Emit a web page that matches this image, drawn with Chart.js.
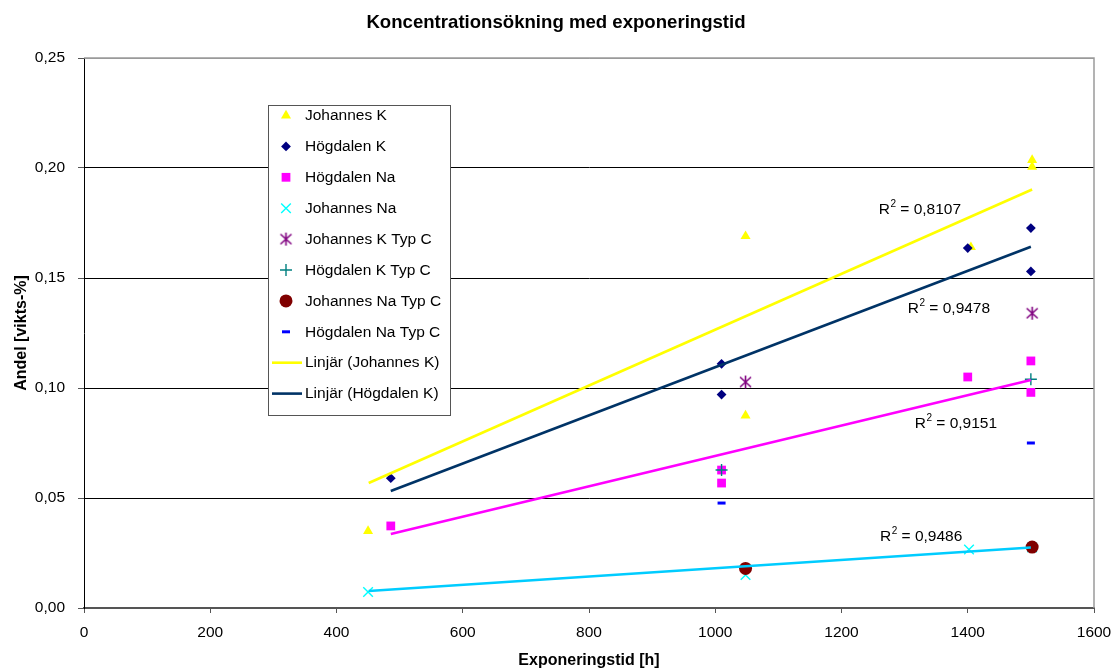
<!DOCTYPE html>
<html>
<head>
<meta charset="utf-8">
<script src="https://cdn.jsdelivr.net/npm/chart.js@4.4.1/dist/chart.umd.min.js"></script>
<style>
  html, body { margin: 0; padding: 0; background: #fff; }
  #wrap { width: 1112px; height: 670px; }
</style>
</head>
<body>
<div id="wrap"><canvas id="c" width="1112" height="670"></canvas></div>
<script>
// Measured shares (vikts-%) against exposure time (h)
const johannesK_x   = [450, 1048, 1048, 1405, 1502, 1502];
const johannesK_y   = [0.035, 0.169, 0.0875, 0.164, 0.2036, 0.2005];
const hogdalenK_x   = [486, 1010, 1010, 1400, 1500, 1500];
const hogdalenK_y   = [0.059, 0.111, 0.097, 0.1636, 0.1727, 0.153];
const hogdalenNa_x  = [486, 1010, 1010, 1400, 1500, 1500];
const hogdalenNa_y  = [0.0373, 0.0627, 0.0568, 0.105, 0.1123, 0.098];
const johannesNa_x  = [450, 1048, 1402, 1502];
const johannesNa_y  = [0.0073, 0.015, 0.0266, 0.0275];
const johKTypC_x    = [1048, 1502];
const johKTypC_y    = [0.1027, 0.134];
const hogKTypC_x    = [1010, 1500];
const hogKTypC_y    = [0.0627, 0.104];
const johNaTypC_x   = [1048, 1502];
const johNaTypC_y   = [0.018, 0.0277];
const hogNaTypC_x   = [1010, 1500];
const hogNaTypC_y   = [0.0477, 0.075];

// Linear trend lines (start and end of each fitted line)
const trendJohK_x  = [451, 1502];
const trendJohK_y  = [0.0568, 0.1902];
const trendHogK_x  = [486, 1500];
const trendHogK_y  = [0.0532, 0.1642];
const trendHogNa_x = [486, 1500];
const trendHogNa_y = [0.0336, 0.1036];
const trendJohNa_x = [451, 1500];
const trendJohNa_y = [0.0077, 0.0275];

const r2Values = ['0,8107', '0,9478', '0,9151', '0,9486'];

const xTicks = [0, 200, 400, 600, 800, 1000, 1200, 1400, 1600];
const yTicks = [0, 0.05, 0.10, 0.15, 0.20, 0.25];

const FONT = '"Liberation Sans", Arial, sans-serif';
const TXT = 15.5;

function pts(xs, ys) { return xs.map((x, i) => ({ x: x, y: ys[i] })); }

// Asterisk marker: an X with a vertical stroke
function asteriskMarker(color) {
  const c = document.createElement('canvas');
  c.width = 15; c.height = 15;
  const g = c.getContext('2d');
  g.strokeStyle = color; g.lineWidth = 1.6;
  g.beginPath();
  g.moveTo(2, 2.5); g.lineTo(13, 12.5);
  g.moveTo(13, 2.5); g.lineTo(2, 12.5);
  g.moveTo(7.5, 1); g.lineTo(7.5, 14);
  g.stroke();
  return c;
}

function scatterSet(label, xs, ys, style, color, radius, extra) {
  return Object.assign({
    type: 'scatter',
    label: label,
    data: pts(xs, ys),
    pointStyle: style,
    pointRadius: radius,
    pointHoverRadius: radius,
    backgroundColor: color,
    borderColor: color,
    pointBorderWidth: 0,
    showLine: false,
    inLegend: true
  }, extra || {});
}

function trendSet(label, xs, ys, color, inLegend) {
  return {
    type: 'line',
    label: label,
    data: pts(xs, ys),
    borderColor: color,
    backgroundColor: color,
    borderWidth: 2.6,
    pointRadius: 0,
    showLine: true,
    fill: false,
    tension: 0,
    inLegend: inLegend,
    order: 0
  };
}

const datasets = [
  scatterSet('Johannes K', johannesK_x, johannesK_y, 'triangle', '#ffff00', 5.8),
  scatterSet('Högdalen K', hogdalenK_x, hogdalenK_y, 'rectRot', '#000080', 4.9),
  scatterSet('Högdalen Na', hogdalenNa_x, hogdalenNa_y, 'rect', '#ff00ff', 6.2),
  scatterSet('Johannes Na', johannesNa_x, johannesNa_y, 'crossRot', '#00ffff', 6.8, { pointBorderWidth: 1.4 }),
  scatterSet('Johannes K Typ C', johKTypC_x, johKTypC_y, asteriskMarker('#800080'), '#800080', 7),
  scatterSet('Högdalen K Typ C', hogKTypC_x, hogKTypC_y, 'cross', '#008080', 6, { pointBorderWidth: 1.4 }),
  scatterSet('Johannes Na Typ C', johNaTypC_x, johNaTypC_y, 'circle', '#800000', 6.5),
  scatterSet('Högdalen Na Typ C', hogNaTypC_x, hogNaTypC_y, 'line', '#0000ff', 4, { pointBorderWidth: 3 }),
  trendSet('Linjär (Johannes K)', trendJohK_x, trendJohK_y, '#ffff00', true),
  trendSet('Linjär (Högdalen K)', trendHogK_x, trendHogK_y, '#003366', true),
  trendSet('Linjär (Högdalen Na)', trendHogNa_x, trendHogNa_y, '#ff00ff', false),
  trendSet('Linjär (Johannes Na)', trendJohNa_x, trendJohNa_y, '#00ccff', false)
];
// later series are painted over earlier ones
datasets.forEach((d, i) => { if (d.type === 'scatter') d.order = 20 - i; });

// Chart heading
const titlePlugin = {
  id: 'heading',
  afterDraw(chart) {
    const ctx = chart.ctx;
    ctx.save();
    ctx.font = 'bold 18.6px ' + FONT;
    ctx.fillStyle = '#000';
    ctx.textAlign = 'center';
    ctx.textBaseline = 'middle';
    ctx.fillText('Koncentrationsökning med exponeringstid', 556, 23);
    ctx.restore();
  }
};

// Top and right edges of the plot area
const framePlugin = {
  id: 'frame',
  beforeDatasetsDraw(chart) {
    const a = chart.chartArea, ctx = chart.ctx;
    ctx.save();
    ctx.strokeStyle = '#9a9a9a';
    ctx.lineWidth = 1.5;
    ctx.beginPath();
    ctx.moveTo(a.left, a.top);
    ctx.lineTo(a.right, a.top);
    ctx.lineTo(a.right, a.bottom);
    ctx.stroke();
    ctx.restore();
  }
};

// R² labels beside the trend lines, anchored in data units
const r2Anchors = [
  { x: 1259, y: 0.1818 },
  { x: 1305, y: 0.1368 },
  { x: 1316, y: 0.0845 },
  { x: 1261, y: 0.0332 }
];
const r2Plugin = {
  id: 'r2',
  afterDatasetsDraw(chart) {
    const ctx = chart.ctx, xs = chart.scales.x, ys = chart.scales.y;
    ctx.save();
    ctx.fillStyle = '#000';
    ctx.textBaseline = 'alphabetic';
    ctx.textAlign = 'left';
    r2Values.forEach((v, i) => {
      let px = xs.getPixelForValue(r2Anchors[i].x);
      const py = ys.getPixelForValue(r2Anchors[i].y) + 6;
      ctx.font = TXT + 'px ' + FONT;
      ctx.fillText('R', px, py);
      px += ctx.measureText('R').width;
      ctx.font = '10px ' + FONT;
      ctx.fillText('2', px + 0.5, py - 7);
      px += ctx.measureText('2').width + 0.5;
      ctx.font = TXT + 'px ' + FONT;
      ctx.fillText(' = ' + v, px, py);
    });
    ctx.restore();
  }
};

// Boxed legend inside the plot area
const legendPlugin = {
  id: 'boxLegend',
  afterDraw(chart) {
    const ctx = chart.ctx;
    const items = chart.data.datasets.filter(d => d.inLegend);
    const left = 268, top = 105, w = 182, h = 310, rowH = 30.9, firstY = 115.5;
    ctx.save();
    ctx.fillStyle = '#fff';
    ctx.fillRect(left, top, w, h);
    ctx.strokeStyle = '#555';
    ctx.lineWidth = 1;
    ctx.strokeRect(left + 0.5, top + 0.5, w, h);
    items.forEach((d, i) => {
      const y = firstY + i * rowH;
      if (d.type === 'line') {
        ctx.strokeStyle = d.borderColor;
        ctx.lineWidth = 2.6;
        ctx.beginPath();
        ctx.moveTo(272, y);
        ctx.lineTo(302, y);
        ctx.stroke();
      } else {
        ctx.fillStyle = d.backgroundColor;
        ctx.strokeStyle = d.borderColor;
        ctx.lineWidth = d.pointBorderWidth || 0;
        Chart.helpers.drawPoint(ctx, {
          pointStyle: d.pointStyle,
          radius: d.pointRadius,
          rotation: 0,
          borderWidth: d.pointBorderWidth || 0
        }, 286, y);
      }
      ctx.fillStyle = '#000';
      ctx.font = TXT + 'px ' + FONT;
      ctx.textAlign = 'left';
      ctx.textBaseline = 'middle';
      ctx.fillText(d.label, 305, y + 0.5);
    });
    ctx.restore();
  }
};

function commaFmt(v) { return Number(v).toFixed(2).replace('.', ','); }

new Chart(document.getElementById('c'), {
  type: 'scatter',
  data: { datasets: datasets },
  options: {
    responsive: false,
    animation: false,
    events: [],
    layout: { padding: { top: 58, right: 18, bottom: 0, left: 0 } },
    plugins: {
      legend: { display: false },
      title: { display: false },
      tooltip: { enabled: false }
    },
    scales: {
      x: {
        type: 'linear',
        min: 0, max: 1600,
        afterBuildTicks: s => { s.ticks = xTicks.map(v => ({ value: v })); },
        afterFit: s => { s.height = 62; s.paddingLeft = 0; s.paddingRight = 0; },
        ticks: { color: '#000', font: { family: FONT, size: TXT }, padding: 10, maxRotation: 0, callback: v => String(v) },
        grid: { drawOnChartArea: false, drawTicks: true, tickLength: 5, tickColor: '#555', tickWidth: 1 },
        border: { display: true, color: '#555', width: 2 },
        title: {
          display: true, text: 'Exponeringstid [h]', color: '#000',
          font: { family: FONT, size: 16, weight: 'bold' },
          padding: { top: 0, bottom: 0 }
        }
      },
      y: {
        type: 'linear',
        min: 0, max: 0.25,
        afterBuildTicks: s => { s.ticks = yTicks.map(v => ({ value: v })); },
        afterFit: s => { s.width = 84; s.paddingTop = 0; s.paddingBottom = 0; },
        ticks: { color: '#000', font: { family: FONT, size: TXT }, padding: 13, callback: v => commaFmt(v) },
        grid: {
          drawTicks: true, tickLength: 6,
          color: c => (c.tick && c.tick.value >= 0.25 ? '#9a9a9a' : (c.tick && c.tick.value === 0 ? 'rgba(0,0,0,0)' : '#000')),
          tickColor: '#555',
          lineWidth: 1
        },
        border: { display: true, color: '#000', width: 1 },
        title: {
          display: true, text: 'Andel [vikts-%]', color: '#000',
          font: { family: FONT, size: 16, weight: 'bold' },
          padding: { top: 12, bottom: 0 }
        }
      }
    }
  },
  plugins: [framePlugin, r2Plugin, legendPlugin, titlePlugin]
});
</script>
</body>
</html>
